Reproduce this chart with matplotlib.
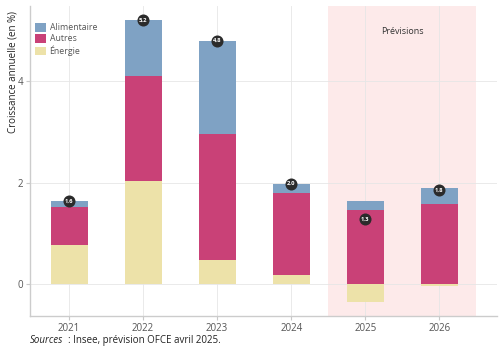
import matplotlib
matplotlib.use("Agg")
import matplotlib.pyplot as plt
import numpy as np

years = ["2021", "2022", "2023", "2024", "2025", "2026"]
energie = [0.78, 2.03, 0.47, 0.18, -0.36, -0.04]
autres = [0.74, 2.07, 2.49, 1.61, 1.47, 1.58]
alimentaire = [0.12, 1.10, 1.84, 0.19, 0.17, 0.31]
totaux = ["1,6", "5,2", "4,8", "2,0", "1,3", "1,8"]

plt.rcParams['font.family'] = ['Open Sans', 'DejaVu Sans']

fig = plt.figure(figsize=(5.04, 3.6), dpi=100)
ax = fig.add_axes([0.0595, 0.122, 0.927, 0.861])

x = np.arange(len(years))
w = 0.5
c_en = "#ede2a9"
c_au = "#c94177"
c_al = "#7fa2c4"

ax.axvspan(3.5, 5.5, color="#fdeaea", zorder=0, lw=0)
ax.text(4.5, 4.98, "Prévisions", ha="center", va="center", fontsize=6.5, color="#333333")

en = np.array(energie)
au = np.array(autres)
al = np.array(alimentaire)
pos_base = np.where(en > 0, en, 0)
ax.bar(x, en, w, color=c_en, zorder=2, label="Énergie")
ax.bar(x, au, w, bottom=pos_base, color=c_au, zorder=2, label="Autres")
ax.bar(x, al, w, bottom=pos_base + au, color=c_al, zorder=2, label="Alimentaire")

tot = en + au + al
for xi, t, lab in zip(x, tot, totaux):
    ax.scatter([xi], [t], s=75, color="#2b2b2b", zorder=4, linewidths=0)
    ax.text(xi, t, lab, ha="center", va="center", fontsize=4.2, color="white",
            fontweight="bold", zorder=5)

ax.set_xlim(-0.527, 5.78)
ax.set_ylim(-0.63, 5.48)
ax.set_xticks(x)
ax.set_xticklabels(years)
ax.set_yticks([0, 2, 4])
ax.set_yticklabels(["0", "2", "4"])
ax.tick_params(axis="both", labelsize=7, labelcolor="#555555", length=3, width=0.8, color="#c8c8c8", pad=2)
ax.grid(True, color="#e6e6e6", lw=0.6, zorder=1)
ax.set_axisbelow(True)
for s in ["top", "right"]:
    ax.spines[s].set_visible(False)
for s in ["left", "bottom"]:
    ax.spines[s].set_color("#cccccc")
    ax.spines[s].set_linewidth(1.0)

ax.set_ylabel("Croissance annuelle (en %)", fontsize=7, color="#222222", loc="top")
ax.yaxis.set_label_coords(-0.024, 0.985)

handles, labels = ax.get_legend_handles_labels()
leg = ax.legend(handles[::-1], labels[::-1], loc="upper left", bbox_to_anchor=(0.01, 0.946),
                fontsize=6.3, frameon=False, handlelength=1.3, handleheight=1.15,
                labelspacing=0.22, handletextpad=0.4, labelcolor="#555555",
                borderpad=0, borderaxespad=0)

fig.text(0.0595, 0.053, "Sources", fontsize=7, style="italic", color="#222222", ha="left", va="center")
fig.text(0.0595 + 0.075, 0.053, ": Insee, prévision OFCE avril 2025.", fontsize=7, color="#222222", ha="left", va="center")

fig.savefig("out.png", dpi=100)
